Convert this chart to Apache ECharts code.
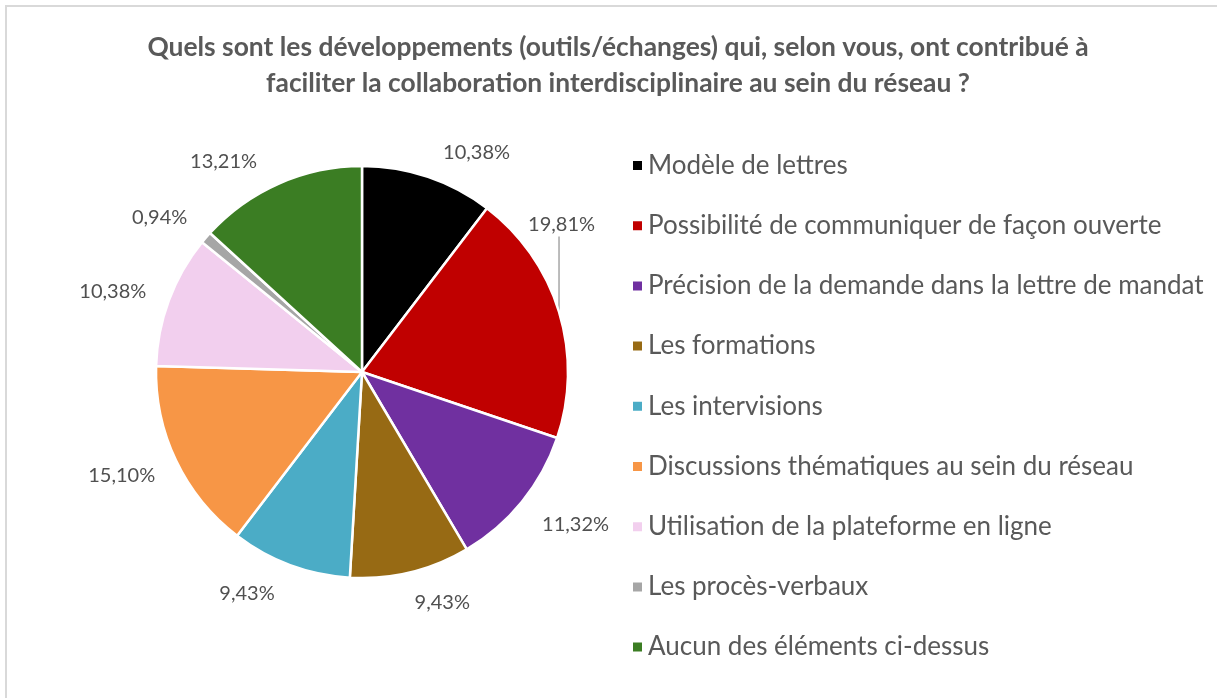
<!DOCTYPE html>
<html>
<head>
<meta charset="utf-8">
<script src="https://cdn.jsdelivr.net/npm/echarts@6/dist/echarts.min.js"></script>
<style>
  html, body { margin: 0; padding: 0; background: #fff; }
  #chart { width: 1217px; height: 698px; }
</style>
</head>
<body>
<div id="chart"></div>
<script>
// libellés de la légende
var categories = [
  'Modèle de lettres',
  'Possibilité de communiquer de façon ouverte',
  'Précision de la demande dans la lettre de mandat',
  'Les formations',
  'Les intervisions',
  'Discussions thématiques au sein du réseau',
  'Utilisation de la plateforme en ligne',
  'Les procès-verbaux',
  'Aucun des éléments ci-dessus'
]
// pourcentages
var percents = [10.38, 19.81, 11.32, 9.43, 9.43, 15.10, 10.38, 0.94, 13.21]
var colors = ['#000000', '#C00000', '#7030A0', '#976A14', '#4BACC6', '#F79646', '#F2CFEE', '#A6A6A6', '#3B7D23']

var font = 'Lato, "Open Sans", sans-serif'
var gray = '#595959'

var chart = echarts.init(document.getElementById('chart'))

var pieData = categories.map(function (name, i) {
  var item = { name: name, value: percents[i] }
  if (i === 1) {
    // seule étiquette avec trait de rappel
    item.labelLine = { show: true, lineStyle: { color: '#A6A6A6', width: 1.5 } }
  }
  return item
})

// petits décalages des étiquettes pour suivre le placement d'Excel
var labelShift = {
  0: [3, -3],
  1: [-57, -81],
  2: [-2, 9],
  3: [-6, 9],
  4: [-3, 8],
  5: [4, 5],
  6: [3, -1],
  7: [3, -6],
  8: [-8, -2]
}

var option = {
  color: colors,
  textStyle: { fontFamily: font },
  graphic: [
    {
      type: 'rect',
      shape: { x: 6, y: 6, width: 1240, height: 720 },
      style: { fill: 'none', stroke: '#D9D9D9', lineWidth: 2 },
      silent: true
    }
  ],
  title: {
    text: 'Quels sont les développements (outils/échanges) qui, selon vous, ont contribué à\nfaciliter la collaboration interdisciplinaire au sein du réseau ?',
    left: 613,
    textAlign: 'center',
    top: 24,
    textStyle: {
      fontFamily: font,
      fontWeight: 'bold',
      fontSize: 26.4,
      lineHeight: 36,
      color: gray
    }
  },
  legend: {
    orient: 'vertical',
    left: 626,
    top: 147.5,
    icon: 'rect',
    itemWidth: 11,
    itemHeight: 11,
    itemGap: 34.2,
    textStyle: {
      fontFamily: font,
      fontSize: 26,
      lineHeight: 22,
      color: gray,
      padding: [0, 0, 0, 0]
    },
    data: categories
  },
  series: [
    {
      type: 'pie',
      center: [362, 372],
      radius: 206,
      startAngle: 90,
      clockwise: true,
      avoidLabelOverlap: false,
      data: pieData,
      itemStyle: { borderColor: '#fff', borderWidth: 2.5 },
      label: {
        show: true,
        position: 'outside',
        fontFamily: font,
        fontSize: 20,
        color: '#505050',
        formatter: function (p) {
          return p.value.toFixed(2).replace('.', ',') + '%'
        }
      },
      labelLine: { show: false, length: 22, length2: 0 },
      labelLayout: function (params) {
        var s = labelShift[params.dataIndex]
        if (!s) return
        var out = { dx: s[0], dy: s[1] }
        if (params.dataIndex === 1 && params.labelLinePoints) {
          var p0 = params.labelLinePoints[0]
          var bottom = params.labelRect.y + s[1] + params.labelRect.height + 2
          out.labelLinePoints = [p0, [p0[0], bottom], [p0[0], bottom]]
        }
        return out
      },
      emphasis: { disabled: true }
    }
  ]
}

chart.setOption(option)
</script>
</body>
</html>
